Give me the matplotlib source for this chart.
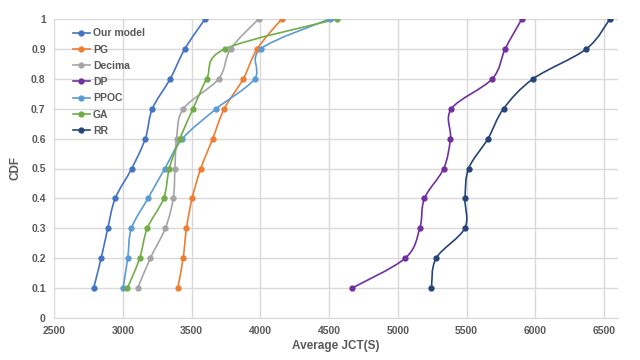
"""
CDF of average JCT for the scheduling methods
"""
import numpy as np
from matplotlib import pyplot as plt
from matplotlib.path import Path
from matplotlib.patches import PathPatch
from matplotlib.lines import Line2D

cdf = [0.1, 0.2, 0.3, 0.4, 0.5, 0.6, 0.7, 0.8, 0.9, 1.0]

our_model = [2788, 2843, 2891, 2945, 3065, 3164, 3215, 3345, 3451, 3598]
pg = [3400, 3439, 3463, 3504, 3567, 3654, 3738, 3876, 3977, 4155]
decima = [3109, 3200, 3309, 3367, 3379, 3391, 3441, 3697, 3784, 3987]
dp = [4667, 5053, 5159, 5193, 5333, 5382, 5389, 5686, 5780, 5901]
ppoc = [3002, 3036, 3063, 3183, 3306, 3434, 3680, 3958, 4003, 4503]
ga = [3034, 3123, 3178, 3297, 3338, 3415, 3511, 3610, 3743, 4558]
rr = [5244, 5278, 5486, 5488, 5514, 5655, 5768, 5983, 6370, 6541]

labels = ["Our model", "PG", "Decima", "DP", "PPOC", "GA", "RR"]
colors = ["#4472C4", "#ED7D31", "#A5A5A5", "#7030A0", "#5B9BD5", "#70AD47", "#264478"]

x_ticks = [2500, 3000, 3500, 4000, 4500, 5000, 5500, 6000, 6500]
y_ticks = [0, 0.1, 0.2, 0.3, 0.4, 0.5, 0.6, 0.7, 0.8, 0.9, 1]

TEXT_COLOR = "#595959"
GRID_COLOR = "#D9D9D9"


def smooth_path(xs, ys):
    """Excel-like smoothed line (Catmull-Rom as cubic bezier segments)."""
    pts = np.column_stack([xs, ys]).astype(float)
    n = len(pts)
    verts = [pts[0]]
    codes = [Path.MOVETO]
    for i in range(n - 1):
        p0 = pts[i - 1] if i > 0 else pts[i]
        p1, p2 = pts[i], pts[i + 1]
        p3 = pts[i + 2] if i + 2 < n else pts[i + 1]
        c1 = p1 + (p2 - p0) / 6
        c2 = p2 - (p3 - p1) / 6
        verts += [c1, c2, p2]
        codes += [Path.CURVE4] * 3
    return Path(verts, codes)


plt.rcParams["font.family"] = ["Liberation Sans", "DejaVu Sans"]
fig = plt.figure(figsize=(6.4, 3.6), dpi=100)
ax = fig.add_axes([54 / 640, 42 / 360, 564 / 640, 299 / 360])

series = [our_model, pg, decima, dp, ppoc, ga, rr]
handles = []
for xs, label, color in zip(series, labels, colors):
    ax.add_patch(PathPatch(smooth_path(xs, cdf), facecolor="none",
                           edgecolor=color, linewidth=1.2, zorder=3))
    ax.plot(xs, cdf, linestyle="none", marker="o", markersize=3.5,
            color=color, zorder=4)
    handles.append(Line2D([], [], color=color, linewidth=1.2, marker="o",
                          markersize=3.5, label=label))

ax.set_xlim(2500, 6600)
ax.set_ylim(0, 1.0)
ax.set_xticks(x_ticks)
ax.set_yticks(y_ticks)
ax.set_yticklabels([f"{v:g}" for v in y_ticks])
ax.grid(True, color=GRID_COLOR, linewidth=1, zorder=0)
ax.set_axisbelow(True)
for side in ["top", "right", "left"]:
    ax.spines[side].set_visible(False)
ax.spines["bottom"].set_color(GRID_COLOR)
ax.tick_params(length=0, labelsize=7.5, labelcolor=TEXT_COLOR, pad=6)
for lbl in ax.get_xticklabels() + ax.get_yticklabels():
    lbl.set_fontweight("bold")

ax.set_xlabel("Average JCT(S)", fontsize=8.5, fontweight="bold",
              color=TEXT_COLOR, labelpad=3)
ax.set_ylabel("CDF", fontsize=8.5, fontweight="bold", color=TEXT_COLOR,
              labelpad=7)

leg = ax.legend(handles=handles, loc="upper left", frameon=False,
                bbox_to_anchor=(0.017, 1.0), fontsize=7.5, labelspacing=0.6,
                handlelength=1.6, handletextpad=0.3)
for txt in leg.get_texts():
    txt.set_fontweight("bold")
    txt.set_color(TEXT_COLOR)

fig.savefig("out.png", dpi=100)
